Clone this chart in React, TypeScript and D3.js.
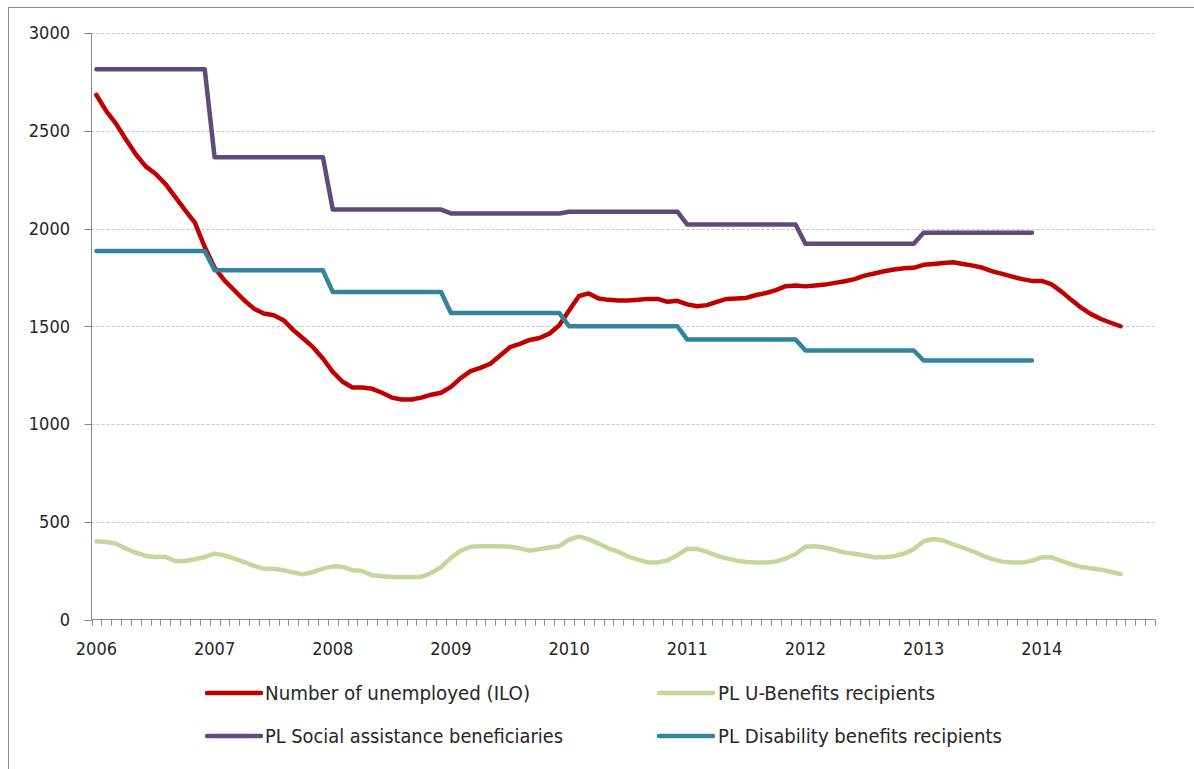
import React from 'react';
import * as d3 from 'd3';

// monthly, Jan 2006 .. Sep 2014 (thousands)
const unemployed = [
  2683, 2600, 2535, 2455, 2380, 2318, 2280, 2228, 2162, 2094, 2030, 1905,
  1800, 1735, 1684, 1633, 1590, 1565, 1556, 1531, 1480, 1437, 1393, 1335,
  1267, 1216, 1187, 1187, 1180, 1160, 1135, 1125, 1125, 1135, 1150, 1160,
  1190, 1235, 1270, 1287, 1308, 1350, 1393, 1410, 1430, 1440, 1462, 1505,
  1580, 1655, 1668, 1642, 1635, 1632, 1632, 1635, 1640, 1640, 1625, 1630,
  1612, 1602, 1608, 1625, 1640, 1642, 1645, 1660, 1670, 1685, 1705, 1708,
  1704, 1708, 1713, 1722, 1730, 1741, 1759, 1770, 1781, 1790, 1797, 1799,
  1814, 1818, 1823, 1827, 1818, 1810, 1799, 1781, 1768, 1754, 1741, 1732,
  1732, 1714, 1677, 1635, 1595, 1562, 1537, 1518, 1500,
];
const uBenefits = [
  400, 396, 388, 362, 342, 325, 320, 320, 299, 299, 308, 320,
  337, 328, 311, 294, 274, 260, 260, 252, 240, 231, 243, 260,
  272, 269, 252, 248, 226, 221, 218, 218, 218, 218, 238, 268,
  315, 352, 372, 375, 375, 375, 372, 364, 352, 360, 368, 375,
  408, 425, 410, 388, 364, 347, 322, 306, 292, 292, 302, 330,
  362, 360, 347, 326, 313, 301, 294, 292, 292, 297, 312, 335,
  372, 375, 367, 356, 342, 336, 327, 318, 318, 324, 336, 360,
  400, 412, 404, 385, 367, 349, 327, 309, 296, 291, 291, 300,
  318, 318, 300, 282, 269, 262, 255, 244, 233,
];
// annual figures, 2006 .. 2013 (one value held across each year)
const socialAssist = [2815, 2365, 2097, 2077, 2086, 2020, 1922, 1978];
const disability = [1885, 1786, 1675, 1568, 1500, 1432, 1376, 1325];

const yearLabels = ['2006', '2007', '2008', '2009', '2010', '2011', '2012', '2013', '2014'];
const yTicks = [0, 500, 1000, 1500, 2000, 2500, 3000];

const legendItems = [
  { label: 'Number of unemployed (ILO)', color: '#c00000', col: 0, row: 0, w: 265 },
  { label: 'PL U-Benefits recipients', color: '#c3d69b', col: 1, row: 0, w: 217 },
  { label: 'PL Social assistance beneficiaries', color: '#604a7b', col: 0, row: 1, w: 298 },
  { label: 'PL Disability benefits recipients', color: '#31849b', col: 1, row: 1, w: 284 },
];

const W = 1194, H = 769;
const LEFT = 91.5, RIGHT = 1155, TOP = 33, BOTTOM = 619.5;
const MONTHS = 108;
const FONT = '"Liberation Sans Narrow", "DejaVu Sans Condensed", "DejaVu Sans", sans-serif';

export default function App() {
  const x = d3.scaleLinear().domain([0, MONTHS]).range([LEFT, RIGHT]);
  const y = d3.scaleLinear().domain([0, 3000]).range([BOTTOM, TOP]);

  const monthly = d3.line<number>().x((_, i) => x(i + 0.5)).y(d => y(d));
  const yearly = (vals: number[]) => {
    const pts: [number, number][] = [];
    vals.forEach((v, k) => {
      pts.push([x(k * 12 + 0.5), y(v)], [x(k * 12 + 11.5), y(v)]);
    });
    return d3.line()(pts) || '';
  };

  const series = [
    { d: monthly(unemployed) || '', color: '#c00000' },
    { d: monthly(uBenefits) || '', color: '#c3d69b' },
    { d: yearly(socialAssist), color: '#604a7b' },
    { d: yearly(disability), color: '#31849b' },
  ];

  const colX = [[207, 261, 265], [659, 713, 718]];
  const rowY = [693, 736];

  return (
    <svg width={W} height={H} style={{ position: 'absolute', left: 0, top: 0, background: '#fff' }}>
      <rect x={8.5} y={7.5} width={1300} height={900} fill="#fff" stroke="#8c8c8c" strokeWidth={1} />

      {/* gridlines */}
      {yTicks.filter(t => t > 0).map(t => (
        <line key={t} x1={LEFT} x2={RIGHT} y1={Math.round(y(t)) + 0.5} y2={Math.round(y(t)) + 0.5}
          stroke="#c4c4c4" strokeDasharray="3,2" />
      ))}

      {/* y axis */}
      <line x1={LEFT} x2={LEFT} y1={TOP} y2={BOTTOM} stroke="#868686" />
      {yTicks.map(t => (
        <g key={t}>
          <line x1={LEFT - 7} x2={LEFT} y1={Math.round(y(t)) + 0.5} y2={Math.round(y(t)) + 0.5} stroke="#868686" />
          <text x={70} y={y(t)} dy="0.35em" textAnchor="end" fontFamily={FONT} fontSize={18} fill="#262626">{t}</text>
        </g>
      ))}

      {/* x axis */}
      <line x1={LEFT} x2={RIGHT} y1={BOTTOM} y2={BOTTOM} stroke="#868686" />
      {d3.range(MONTHS + 1).map(i => (
        <line key={i} x1={Math.round(x(i)) + 0.5} x2={Math.round(x(i)) + 0.5} y1={BOTTOM} y2={BOTTOM + 6} stroke="#868686" />
      ))}
      {yearLabels.map((lbl, k) => (
        <text key={lbl} x={x(k * 12 + 0.5)} y={655} textAnchor="middle" fontFamily={FONT} fontSize={18} fill="#262626">{lbl}</text>
      ))}

      {/* series */}
      {series.map((s, i) => (
        <path key={i} d={s.d} fill="none" stroke={s.color} strokeWidth={4.5} strokeLinejoin="round" strokeLinecap="round" />
      ))}

      {/* legend */}
      {legendItems.map(it => {
        const [x1, x2, tx] = colX[it.col];
        const ly = rowY[it.row];
        return (
          <g key={it.label}>
            <line x1={x1} x2={x2} y1={ly} y2={ly} stroke={it.color} strokeWidth={4.5} strokeLinecap="round" />
            <text x={tx} y={ly} dy="0.36em" fontFamily={FONT} fontSize={20} fill="#262626"
              textLength={it.w} lengthAdjust="spacingAndGlyphs">{it.label}</text>
          </g>
        );
      })}
    </svg>
  );
}
